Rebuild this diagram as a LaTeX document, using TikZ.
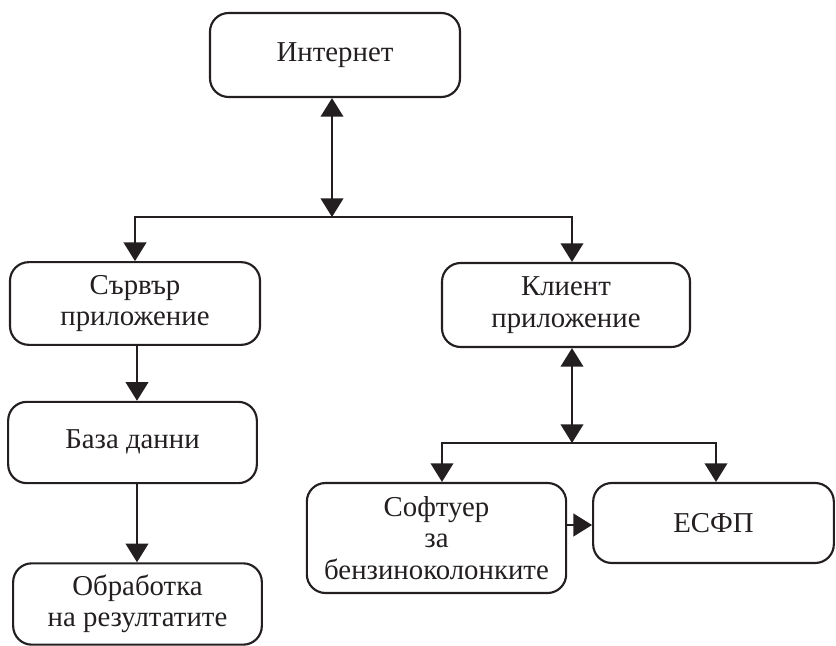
\documentclass[tikz,border=0pt]{standalone}
\usepackage{fontspec}
\setmainfont{Liberation Serif}
\usetikzlibrary{arrows.meta,calc}
\definecolor{ink}{RGB}{35,31,32}
\begin{document}
\begin{tikzpicture}[x=0.75pt,y=-0.75pt,
  box/.style={draw=ink, line width=1.6pt, rounded corners=14pt, align=center,
    inner sep=0pt, font=\fontsize{21.6}{23.5}\selectfont, text=ink},
  conn/.style={line width=1.4pt, draw=ink, -{Triangle[length=14pt,width=17pt]}},
  conn2/.style={line width=1.4pt, draw=ink, {Triangle[length=14pt,width=17pt]}-{Triangle[length=14pt,width=17pt]}}
]
\useasboundingbox (0,0) rectangle (836,646);
\node[box, minimum width=187.5pt, minimum height=63pt] (inet) at (335,55) {\raisebox{-2pt}{Интернет}};
\node[box, minimum width=187.5pt, minimum height=62pt] (server) at (135,303.5) {Сървър\\приложение};
\node[box, minimum width=186.5pt, minimum height=61pt] (base) at (132.5,442.5) {\raisebox{5pt}{База данни}};
\node[box, minimum width=186.5pt, minimum height=61pt] (proc) at (137.5,604) {Обработка\\на резултатите};
\node[box, minimum width=186pt, minimum height=63pt] (client) at (566,305) {Клиент\\приложение};
\node[box, minimum width=194.5pt, minimum height=82.5pt] (soft) at (436.5,538) {Софтуер\\за\\бензиноколонките};
\node[box, minimum width=180.5pt, minimum height=60pt] (esfp) at (713.5,523) {ЕСФП};
\coordinate (j1) at (332,217);
\coordinate (j2) at (572,443);
\draw[conn2] (j1 |- inet.south) -- (j1);
\draw[conn] (j1) -| (server.north);
\draw[conn] (j1) -| (client.north -| j2);
\draw[conn] (server.south -| 137,0) -- (base.north -| 137,0);
\draw[conn] (base.south -| 137,0) -- (proc.north -| 137,0);
\draw[conn2] (j2 |- client.south) -- (j2);
\draw[conn] (j2) -| (soft.north -| 442,0);
\draw[conn] (j2) -| (esfp.north -| 716,0);
\draw[conn] (soft.east |- 0,525) -- (esfp.west |- 0,525);
\end{tikzpicture}
\end{document}
